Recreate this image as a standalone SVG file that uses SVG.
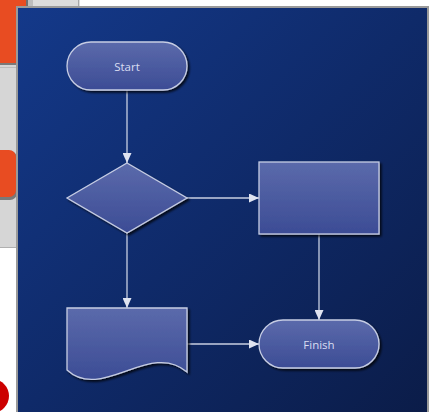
<svg xmlns="http://www.w3.org/2000/svg" width="434" height="412" viewBox="0 0 434 412">
<defs>
<linearGradient id="bg" x1="0" y1="0" x2="1" y2="1">
<stop offset="0" stop-color="#14398a"/>
<stop offset="0.5" stop-color="#0f2a69"/>
<stop offset="1" stop-color="#0b1c48"/>
</linearGradient>
<linearGradient id="nf" x1="0" y1="0" x2="0" y2="1">
<stop offset="0" stop-color="#5b6aab"/>
<stop offset="1" stop-color="#3c4c95"/>
</linearGradient>
<filter id="sh" x="-10%" y="-10%" width="130%" height="130%">
<feDropShadow dx="2" dy="2" stdDeviation="1" flood-color="#000" flood-opacity="0.75"/>
</filter>
<marker id="ah" markerWidth="10" markerHeight="9" refX="10" refY="4.5" orient="auto" markerUnits="userSpaceOnUse">
<path d="M0,0 L10,4.5 L0,9 Z" fill="#dfe3f0"/>
</marker>
<style>
.node{fill:url(#nf);stroke:#c6cde4;stroke-width:1.3;filter:url(#sh)}
.lbl{font-family:"Open Sans","Noto Sans",sans-serif;font-size:11.5px;font-weight:500;fill:#d9ddf2;text-anchor:middle;dominant-baseline:central}
.conn{fill:none;stroke:#c8cfe2;stroke-width:1.3;marker-end:url(#ah)}
</style>
</defs>
<!-- background surroundings -->
<rect x="0" y="0" width="434" height="412" fill="#ffffff"/>
<rect x="0" y="0" width="80" height="8" fill="#dcdcdc"/>
<line x1="78.5" y1="0" x2="78.5" y2="8" stroke="#a8a8a8"/>
<rect x="26" y="0" width="7" height="8" fill="#bdbdbd"/>
<rect x="0" y="63" width="18" height="184" fill="#d6d6d6"/>
<line x1="0" y1="247.5" x2="18" y2="247.5" stroke="#b0b0b0"/>
<rect x="0" y="0" width="28" height="65" fill="#3a3a3a" opacity="0.6"/>
<rect x="0" y="0" width="26" height="63" fill="#e84c22"/>
<line x1="0" y1="67.5" x2="18" y2="67.5" stroke="#bcbcbc"/>
<rect x="-20" y="151" width="37" height="49" rx="7" fill="#3a3a3a" opacity="0.6"/>
<rect x="-20" y="150" width="36" height="47" rx="7" fill="#e84c22"/>
<circle cx="-8" cy="396" r="17" fill="#cc0000"/>
<!-- panel -->
<rect x="17" y="7" width="411" height="410" fill="url(#bg)" stroke="#9a9a9a" stroke-width="2"/>
<!-- connectors -->
<g id="connectors">
<line class="conn" x1="127" y1="90" x2="127" y2="163"/>
<line class="conn" x1="187" y1="198" x2="259" y2="198"/>
<line class="conn" x1="127" y1="233" x2="127" y2="308"/>
<line class="conn" x1="319" y1="234" x2="319" y2="320"/>
<line class="conn" x1="187" y1="344" x2="259" y2="344"/>
</g>
<g id="start">
<rect class="node" x="67" y="42" width="120" height="48" rx="24"/>
<text class="lbl" x="127" y="66">Start</text>
</g>
<g id="decision">
<polygon class="node" points="127,163 187,198 127,233 67,198"/>
</g>
<g id="process">
<rect class="node" x="259" y="162" width="120" height="72"/>
</g>
<g id="document">
<path class="node" d="M67,308 H187 V372 C150,340 102,402 67,370 Z"/>
</g>
<g id="finish">
<rect class="node" x="259" y="320" width="120" height="48" rx="24"/>
<text class="lbl" x="319" y="344">Finish</text>
</g>
</svg>
